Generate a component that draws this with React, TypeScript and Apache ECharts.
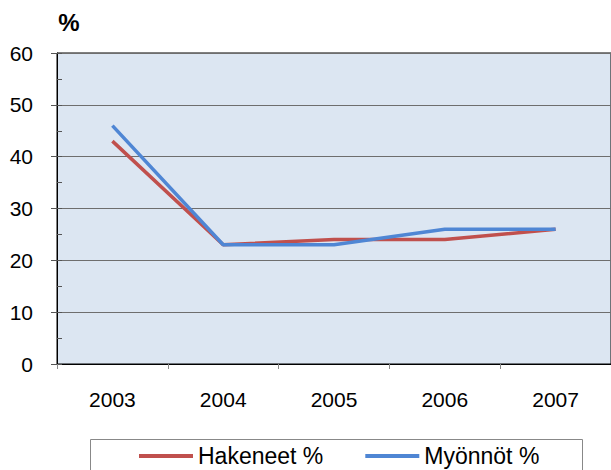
import React, { useEffect, useRef } from "react";
import * as echarts from "echarts";

const years = ["2003", "2004", "2005", "2006", "2007"];
const hakeneet = [43, 23, 24, 24, 26];
const myonnot = [46, 23, 23, 26, 26];
const seriesNames = ["Hakeneet %", "Myönnöt %"];
const yTicks = { min: 0, max: 60, interval: 10 };
const unitLabel = "%";

export default function App() {
  const ref = useRef<HTMLDivElement>(null);
  useEffect(() => {
    if (!ref.current) return;
    const chart = echarts.init(ref.current, undefined, { renderer: "svg" });
    const font = "'Liberation Sans', Arial, sans-serif";
    chart.setOption({
      animation: false,
      textStyle: { fontFamily: font },
      grid: {
        left: 57,
        top: 53,
        right: -2,
        bottom: 106,
        show: true,
        backgroundColor: "#DCE6F2",
        borderColor: "#000",
        borderWidth: 1,
      },
      legend: {
        left: 134,
        top: 439,
        itemWidth: 54,
        itemHeight: 4,
        itemGap: 42,
        icon: "rect",
        textStyle: { fontSize: 23, lineHeight: 24, color: "#000", fontFamily: font },
        data: seriesNames,
      },
      graphic: [
        {
          type: "rect",
          shape: { x: 90.5, y: 439.5, width: 492, height: 60 },
          style: { fill: "none", stroke: "#888", lineWidth: 1 },
          z: 100,
        },
        {
          type: "text",
          x: 69,
          y: 22,
          style: {
            text: unitLabel,
            font: "bold 24px 'Liberation Sans', Arial, sans-serif",
            fill: "#000",
            align: "center",
            verticalAlign: "middle",
          },
        },
      ],
      xAxis: {
        type: "category",
        data: years,
        boundaryGap: true,
        axisLine: { show: true, lineStyle: { color: "#000", width: 1 } },
        axisTick: { show: true, length: 5, lineStyle: { color: "#888" } },
        axisLabel: { fontSize: 21, color: "#000", margin: 25 },
      },
      yAxis: [
        {
          type: "value",
          min: yTicks.min,
          max: yTicks.max,
          interval: yTicks.interval,
          axisLine: { show: true, lineStyle: { color: "#000", width: 1 } },
          axisTick: { show: true, length: 6, lineStyle: { color: "#555" } },
          axisLabel: { fontSize: 21, color: "#000", margin: 24 },
          splitLine: { show: true, lineStyle: { color: "#6e6e6e", width: 1 } },
        },
        {
          type: "value",
          position: "left",
          min: yTicks.min,
          max: yTicks.max,
          interval: yTicks.interval / 2,
          axisLine: { show: false },
          axisTick: { show: true, inside: true, length: 5, lineStyle: { color: "#555" } },
          axisLabel: { show: false },
          splitLine: { show: false },
        },
      ],
      series: [
        {
          name: seriesNames[0],
          type: "line",
          data: hakeneet,
          symbol: "none",
          lineStyle: { color: "#C0504D", width: 3.5 },
          itemStyle: { color: "#C0504D" },
        },
        {
          name: seriesNames[1],
          type: "line",
          data: myonnot,
          symbol: "none",
          lineStyle: { color: "#4F86D4", width: 3.5 },
          itemStyle: { color: "#4F86D4" },
        },
      ],
    });
    return () => chart.dispose();
  }, []);
  return (
    <div
      ref={ref}
      style={{ position: "fixed", left: 0, top: 0, width: 611, height: 470, background: "#fff" }}
    />
  );
}
